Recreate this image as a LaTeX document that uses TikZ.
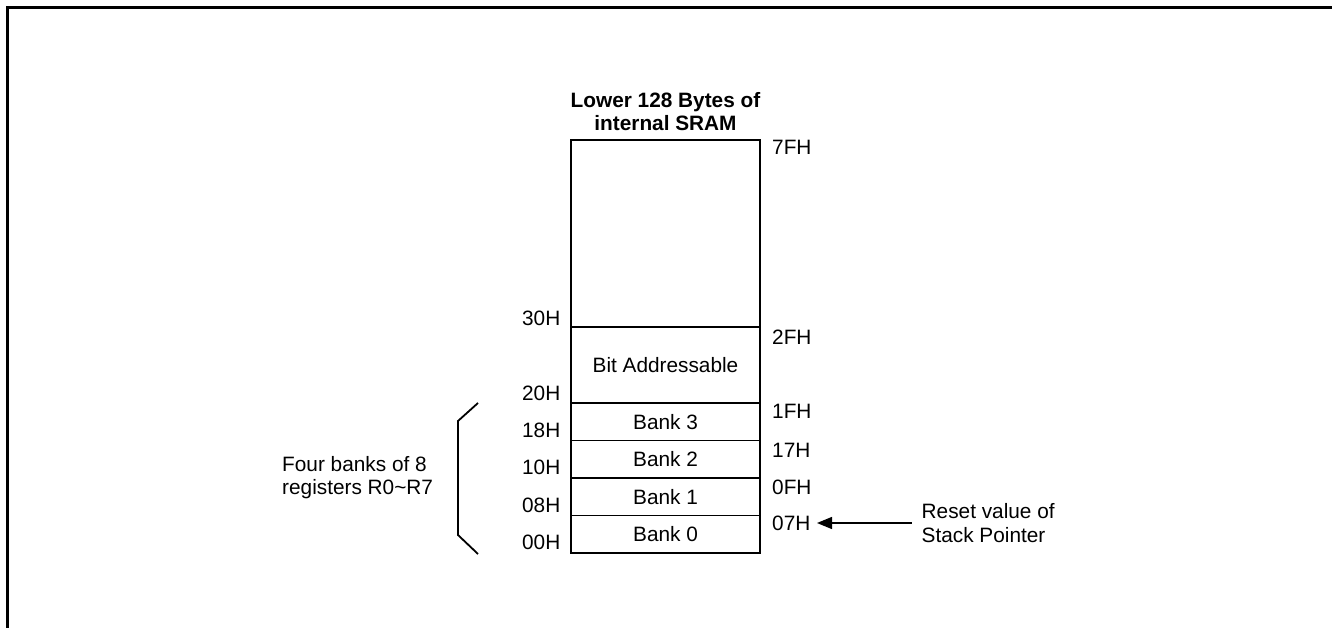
\documentclass[tikz,border=0pt]{standalone}
\usepackage{fontspec}
\setmainfont{Liberation Sans}
\usetikzlibrary{arrows.meta}
\begin{document}
\begin{tikzpicture}[x=1pt,y=-1pt,
  every node/.style={font=\fontsize{20.8}{23.5}\selectfont, inner sep=0pt},
  region/.style={draw, line width=1.3pt, minimum width=189pt, anchor=center},
  addr/.style={inner sep=0pt},
  frame/.style={line width=2.2pt},
  brace/.style={line width=1.8pt, line join=miter},
  note/.style={align=left, anchor=west}]
\useasboundingbox (0,0) rectangle (1332,628);
% frame
\draw[frame] (7.5,629) -- (7.5,7.5) -- (1333,7.5);
% title
\node[font=\bfseries\fontsize{20.8}{23}\selectfont, align=center] (title) at (665.5,111.5) {Lower 128 Bytes of\\internal SRAM};
% memory regions
\node[region, minimum height=187pt] (free) at (665.5,233.5) {};
\node[region, minimum height=76pt] (bit) at (665.5,365) {Bit Addressable};
\node[region, minimum height=37.5pt] (b3) at (665.5,421.75) {Bank 3};
\node[region, minimum height=37.5pt] (b2) at (665.5,459.25) {Bank 2};
\node[region, minimum height=37.5pt] (b1) at (665.5,496.75) {Bank 1};
\node[region, minimum height=37.5pt] (b0) at (665.5,534.25) {Bank 0};
% right addresses
\node[addr, anchor=west] (l7f) at (772,147) {7FH};
\node[addr, anchor=west] (l2f) at (772,337) {2FH};
\node[addr, anchor=west] (l1f) at (772,411) {1FH};
\node[addr, anchor=west] (l17) at (772,450) {17H};
\node[addr, anchor=west] (l0f) at (772,487) {0FH};
\node[addr, anchor=west] (l07) at (772,523) {07H};
% left addresses
\node[addr, anchor=east] (l30) at (560.5,318) {30H};
\node[addr, anchor=east] (l20) at (560.5,393) {20H};
\node[addr, anchor=east] (l18) at (560.5,430) {18H};
\node[addr, anchor=east] (l10) at (560.5,467) {10H};
\node[addr, anchor=east] (l08) at (560.5,505) {08H};
\node[addr, anchor=east] (l00) at (560.5,542) {00H};
% bracket
\coordinate (bt) at (478,403);
\coordinate (bu) at (458,421);
\coordinate (bl) at (458,535);
\coordinate (bb) at (478,554);
\draw[brace] (bt) -- (bu) -- (bl) -- (bb);
% notes
\node[note] (banks) at (282,477.5) {Four banks of 8\\registers R0\textasciitilde R7};
\node[note] (sp) at (921.5,523) {Reset value of\\Stack Pointer};
% arrow
\coordinate (spsrc) at (911.5,523);
\coordinate (sptip) at (817,523);
\draw[line width=1.3pt, -{Triangle[length=15pt, width=12pt]}] (spsrc) -- (sptip);
\end{tikzpicture}
\end{document}
